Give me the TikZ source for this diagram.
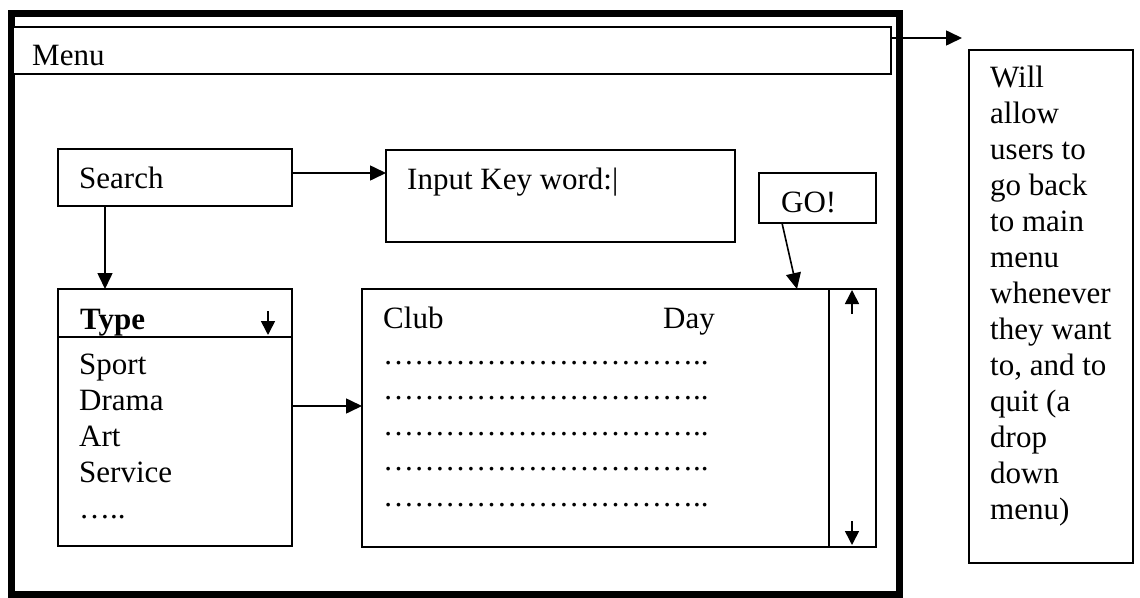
\documentclass[tikz,border=0pt]{standalone}
\usepackage{fontspec}
\setmainfont{Liberation Serif}
\usetikzlibrary{arrows.meta}
\begin{document}
\begin{tikzpicture}[x=1pt,y=-1pt,
  box/.style={draw, line width=1.6pt, rectangle, anchor=north west, inner sep=0pt, outer sep=0pt},
  txt/.style={anchor=base west, inner sep=0pt, font=\fontsize{31}{36}\selectfont},
  thinline/.style={line width=1.6pt},
  arr/.style={line width=1.6pt, -{Triangle[length=16pt,width=15pt]}},
  sarr/.style={line width=1.6pt, -{Triangle[length=14pt,width=14pt]}}]
\useasboundingbox (0,0) rectangle (1140,597);
\fill[white] (0,0) rectangle (1140,597);
% outer window frame
\node[box, line width=7pt, minimum width=887.5pt, minimum height=581pt] (frame) at (11.5,13) {};
% menu bar
\node[box, fill=white, minimum width=878pt, minimum height=47pt] (menu) at (13,27) {};
\node[txt] (menut) at (32,65) {Menu};
% note box
\node[box, minimum width=164pt, minimum height=513pt] (note) at (969,50) {};
\foreach \i/\t in {0/Will,1/allow,2/users to,3/go back,4/to main,5/menu,6/whenever,7/they want,8/{to, and to},9/quit (a,10/drop,11/down,12/menu)}
  \node[txt] (note\i) at (990,87+36*\i) {\t};
\coordinate (notein) at (962,38);
\draw[arr] (menu.east |- notein) -- (notein);
% search
\node[box, minimum width=234pt, minimum height=57pt] (search) at (58,149) {};
\node[txt] (searcht) at (79,188) {Search};
% input
\node[box, minimum width=349pt, minimum height=92pt] (input) at (386,150) {};
\node[txt] (inputt) at (407,189) {Input Key word:|};
% go
\node[box, minimum width=117pt, minimum height=50pt] (go) at (759,173) {};
\node[txt] (got) at (781,212) {GO!};
% type list
\node[box, minimum width=234pt, minimum height=257pt] (type) at (58,289) {};
\node[txt, font=\fontsize{31}{36}\selectfont\bfseries] (typet) at (80,329) {Type};
\draw[thinline] ([yshift=-48pt]type.north west) -- ([yshift=-48pt]type.north east);
\draw[sarr] ([xshift=-24pt,yshift=-22pt]type.north east) -- ([xshift=-24pt,yshift=-46pt]type.north east);
\foreach \i/\t in {0/Sport,1/Drama,2/Art,3/Service,4/…..}
  \node[txt] (type\i) at (79,374+36*\i) {\t};
% club table
\node[box, minimum width=514pt, minimum height=258pt] (club) at (362,289) {};
\draw[thinline] ([xshift=-47pt]club.north east) -- ([xshift=-47pt]club.south east);
\draw[sarr] ([xshift=-24pt,yshift=-25pt]club.north east) -- ([xshift=-24pt,yshift=-1pt]club.north east);
\draw[sarr] ([xshift=-24pt,yshift=26pt]club.south east) -- ([xshift=-24pt,yshift=2pt]club.south east);
\node[txt] (clubt) at (383,328) {Club};
\node[txt] (dayt) at (663,328) {Day};
\foreach \i in {0,...,4}
  \node[txt] (dots\i) at (383,364+35.5*\i) {…………………………..};
% connectors
\draw[arr] ([yshift=4.5pt]search.east) -- ([yshift=4.5pt]search.east -| input.west);
\draw[arr] ([xshift=47pt]search.south west) -- ([xshift=47pt]search.south west |- type.north);
\draw[arr] ([yshift=11.5pt]type.east) -- ([yshift=11.5pt]type.east -| club.west);
\draw[arr] ([xshift=-35.5pt]go.south) -- ([xshift=-79pt]club.north east);
\end{tikzpicture}
\end{document}
